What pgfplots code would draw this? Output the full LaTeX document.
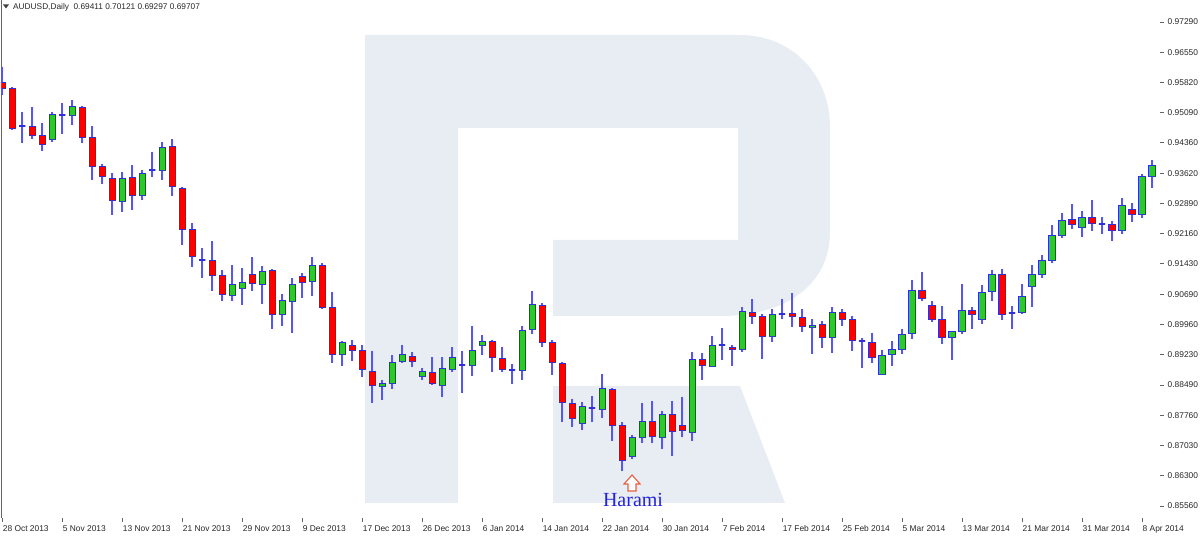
\documentclass[border=0pt]{standalone}
\usepackage{fontspec}
\setmainfont{Liberation Sans}
\newfontfamily\serif{Liberation Serif}
\usepackage{pgfplots}
\usepackage{pgfplotstable}
\usepgfplotslibrary{statistics}
\pgfplotsset{compat=1.18}
\definecolor{wm}{RGB}{232,236,243}
\definecolor{wick}{RGB}{85,85,255}
\definecolor{border}{RGB}{45,45,225}
\definecolor{bull}{RGB}{45,200,45}
\definecolor{bear}{RGB}{255,0,0}
\definecolor{axiscol}{RGB}{100,100,100}
\definecolor{harami}{RGB}{35,35,220}
\definecolor{arrowc}{RGB}{232,95,65}

\pgfplotstableread{
i o h l c
0 0.9583 0.9621 0.9552 0.9568
1 0.9568 0.9572 0.9467 0.9471
2 0.9476 0.9512 0.9435 0.9476
3 0.9477 0.9522 0.9445 0.9453
4 0.9454 0.9485 0.9416 0.9431
5 0.9445 0.9512 0.9439 0.9506
6 0.9504 0.9533 0.9458 0.9504
7 0.9502 0.9540 0.9479 0.9524
8 0.9522 0.9525 0.9435 0.9450
9 0.9448 0.9477 0.9346 0.9378
10 0.9378 0.9385 0.9336 0.9355
11 0.9351 0.9362 0.9261 0.9296
12 0.9294 0.9365 0.9269 0.9351
13 0.9353 0.9382 0.9273 0.9308
14 0.9308 0.9370 0.9298 0.9362
15 0.9371 0.9415 0.9353 0.9371
16 0.9370 0.9439 0.9346 0.9425
17 0.9427 0.9445 0.9308 0.9331
18 0.9326 0.9330 0.9189 0.9225
19 0.9225 0.9241 0.9134 0.9161
20 0.9153 0.9181 0.9109 0.9153
21 0.9150 0.9197 0.9077 0.9115
22 0.9115 0.9128 0.9054 0.9069
23 0.9066 0.9140 0.9054 0.9093
24 0.9082 0.9132 0.9043 0.9097
25 0.9118 0.9160 0.9078 0.9096
26 0.9094 0.9138 0.9046 0.9125
27 0.9126 0.9130 0.8986 0.9021
28 0.9019 0.9070 0.8991 0.9054
29 0.9052 0.9109 0.8976 0.9093
30 0.9112 0.9120 0.9060 0.9097
31 0.9100 0.9159 0.9064 0.9140
32 0.9140 0.9144 0.9035 0.9036
33 0.9038 0.9074 0.8902 0.8924
34 0.8924 0.8956 0.8896 0.8952
35 0.8946 0.8958 0.8907 0.8933
36 0.8933 0.8945 0.8868 0.8888
37 0.8882 0.8932 0.8806 0.8847
38 0.8845 0.8861 0.8813 0.8853
39 0.8852 0.8922 0.8840 0.8904
40 0.8907 0.8945 0.8902 0.8923
41 0.8918 0.8928 0.8892 0.8907
42 0.8871 0.8890 0.8861 0.8882
43 0.8880 0.8916 0.8849 0.8853
44 0.8848 0.8917 0.8819 0.8890
45 0.8887 0.8941 0.8881 0.8915
46 0.8898 0.8932 0.8829 0.8898
47 0.8896 0.8992 0.8870 0.8934
48 0.8945 0.8970 0.8921 0.8955
49 0.8955 0.8959 0.8880 0.8916
50 0.8914 0.8941 0.8881 0.8887
51 0.8886 0.8900 0.8851 0.8886
52 0.8885 0.8993 0.8861 0.8982
53 0.8984 0.9077 0.8973 0.9045
54 0.9041 0.9047 0.8942 0.8953
55 0.8952 0.8958 0.8874 0.8903
56 0.8902 0.8904 0.8760 0.8807
57 0.8805 0.8816 0.8748 0.8768
58 0.8756 0.8807 0.8740 0.8797
59 0.8794 0.8823 0.8760 0.8794
60 0.8790 0.8876 0.8770 0.8840
61 0.8839 0.8841 0.8714 0.8750
62 0.8752 0.8760 0.8642 0.8667
63 0.8675 0.8729 0.8669 0.8723
64 0.8721 0.8806 0.8709 0.8761
65 0.8761 0.8811 0.8708 0.8724
66 0.8722 0.8786 0.8693 0.8778
67 0.8778 0.8810 0.8678 0.8737
68 0.8752 0.8821 0.8722 0.8740
69 0.8735 0.8930 0.8714 0.8912
70 0.8910 0.8926 0.8861 0.8896
71 0.8895 0.8969 0.8892 0.8945
72 0.8946 0.8987 0.8909 0.8946
73 0.8941 0.8946 0.8895 0.8936
74 0.8936 0.9038 0.8928 0.9028
75 0.9026 0.9058 0.8996 0.9016
76 0.9015 0.9021 0.8913 0.8967
77 0.8967 0.9034 0.8953 0.9019
78 0.9021 0.9058 0.9008 0.9021
79 0.9022 0.9071 0.8989 0.9016
80 0.9014 0.9034 0.8977 0.8992
81 0.8988 0.9008 0.8924 0.8993
82 0.8995 0.9004 0.8940 0.8964
83 0.8965 0.9038 0.8926 0.9024
84 0.9026 0.9034 0.8993 0.9007
85 0.9008 0.9016 0.8932 0.8957
86 0.8955 0.8962 0.8890 0.8955
87 0.8952 0.8976 0.8903 0.8917
88 0.8875 0.8934 0.8874 0.8922
89 0.8924 0.8957 0.8895 0.8936
90 0.8936 0.8985 0.8924 0.8972
91 0.8973 0.9104 0.8960 0.9079
92 0.9079 0.9124 0.9052 0.9058
93 0.9043 0.9052 0.9001 0.9008
94 0.9008 0.9041 0.8948 0.8964
95 0.8964 0.8979 0.8910 0.8979
96 0.8979 0.9094 0.8974 0.9029
97 0.9029 0.9039 0.8984 0.9021
98 0.9009 0.9091 0.8998 0.9073
99 0.9076 0.9128 0.9052 0.9117
100 0.9117 0.9130 0.9007 0.9021
101 0.9024 0.9041 0.8984 0.9024
102 0.9026 0.9095 0.9022 0.9065
103 0.9089 0.9141 0.9038 0.9117
104 0.9117 0.9165 0.9109 0.9150
105 0.9152 0.9237 0.9144 0.9212
106 0.9212 0.9265 0.9205 0.9248
107 0.9251 0.9288 0.9227 0.9239
108 0.9232 0.9271 0.9209 0.9256
109 0.9255 0.9298 0.9222 0.9241
110 0.9239 0.9256 0.9214 0.9239
111 0.9239 0.9247 0.9197 0.9224
112 0.9224 0.9302 0.9214 0.9284
113 0.9275 0.9290 0.9245 0.9263
114 0.9262 0.9360 0.9253 0.9354
115 0.9354 0.9395 0.9327 0.9382
}\ohlc

\begin{document}
\begin{tikzpicture}
\useasboundingbox (0,0) rectangle (1200pt,540pt);
% watermark (image pixel coordinates, y downwards)
\begin{scope}[yshift=540pt, x=1pt, y=-1pt]
\fill[wm, even odd rule]
  (365,503) -- (365,35) -- (740,35) .. controls (792,35) and (830,75) .. (830,127)
  -- (830,232) .. controls (830,285) and (785,316) .. (722,316)
  -- (553,316) -- (553,240) -- (738,240) -- (738,128) -- (458,128) -- (458,503) -- cycle;
\fill[wm] (553,386) -- (740,386) -- (785,503) -- (553,503) -- cycle;
\end{scope}

\begin{axis}[
  at={(1pt,22pt)}, anchor=south west,
  scale only axis, width=1159pt, height=518pt,
  xmin=-0.12, xmax=115.8, ymin=0.85269, ymax=0.97823,
  axis line style={draw=none},
  xtick={0,6,...,114},
  xticklabels={28 Oct 2013, 5 Nov 2013, 13 Nov 2013, 21 Nov 2013, 29 Nov 2013, 9 Dec 2013, 17 Dec 2013, 26 Dec 2013, 6 Jan 2014, 14 Jan 2014, 22 Jan 2014, 30 Jan 2014, 7 Feb 2014, 17 Feb 2014, 25 Feb 2014, 5 Mar 2014, 13 Mar 2014, 21 Mar 2014, 31 Mar 2014, 8 Apr 2014},
  ytick={0.97290,0.96550,0.95820,0.95090,0.94360,0.93620,0.92890,0.92160,0.91430,0.90690,0.89960,0.89230,0.88490,0.87760,0.87030,0.86300,0.85560},
  yticklabels={0.97290,0.96550,0.95820,0.95090,0.94360,0.93620,0.92890,0.92160,0.91430,0.90690,0.89960,0.89230,0.88490,0.87760,0.87030,0.86300,0.85560},
  xtick pos=bottom, ytick pos=right, tick align=outside,
  major tick length=4pt,
  tick style={draw=axiscol, line width=0.8pt},
  xticklabel style={anchor=north west, inner sep=0pt, xshift=0.5pt, yshift=-3pt, font=\fontsize{8.4}{10}\selectfont, text=black!85},
  yticklabel style={anchor=west, inner sep=0pt, xshift=3.5pt, font=\fontsize{8.4}{10}\selectfont, text=black!85},
  boxplot/draw direction=y,
  boxplot/box extend=0.62,
  boxplot/whisker extend=0,
  boxplot/every whisker/.style={draw=wick, line width=1.4pt},
  boxplot/every median/.style={draw=none},
]
\pgfplotsinvokeforeach{0,...,115}{
  \pgfplotstablegetelem{#1}{o}\of\ohlc \let\vO\pgfplotsretval
  \pgfplotstablegetelem{#1}{h}\of\ohlc \let\vH\pgfplotsretval
  \pgfplotstablegetelem{#1}{l}\of\ohlc \let\vL\pgfplotsretval
  \pgfplotstablegetelem{#1}{c}\of\ohlc \let\vC\pgfplotsretval
  \pgfmathsetmacro{\vLo}{min(\vO,\vC)}
  \pgfmathsetmacro{\vHi}{max(\vO,\vC)}
  \pgfmathtruncatemacro{\kind}{(\vC>\vO) ? 1 : ((\vC<\vO) ? 2 : 0)}
  \ifcase\kind \def\bodycol{border}\def\bw{1.8pt}\or \def\bodycol{bull}\def\bw{0.9pt}\or \def\bodycol{bear}\def\bw{0.9pt}\fi
  \edef\doit{\noexpand\addplot[draw=border, fill=\bodycol, line width=\bw,
    boxplot prepared={draw position=#1, lower whisker=\vL, lower quartile=\vLo,
      median=\vLo, upper quartile=\vHi, upper whisker=\vH}] coordinates {};}
  \doit
}
\draw[axiscol, line width=0.8pt] (rel axis cs:0,1) -- (rel axis cs:0,0) -- (rel axis cs:1,0) -- (rel axis cs:1,1);
\end{axis}

\begin{scope}[yshift=540pt, x=1pt, y=-1pt]
% header
\fill[black!75] (3,4.5) -- (9,4.5) -- (6,8.5) -- cycle;
\node[anchor=west, inner sep=0pt, font=\fontsize{8.3}{10}\selectfont, text=black!85] at (13,7) {AUDUSD,Daily\ \ 0.69411 0.70121 0.69297 0.69707};
% Harami annotation
\draw[arrowc, line width=1.1pt, line join=miter, fill=white] (632,475) -- (640,484) -- (636,484) -- (636,491) -- (628,491) -- (628,484) -- (624,484) -- cycle;
\node[anchor=base, inner sep=0pt, font=\serif\fontsize{20}{22}\selectfont, text=harami] at (633,507) {Harami};
\end{scope}
\end{tikzpicture}
\end{document}
